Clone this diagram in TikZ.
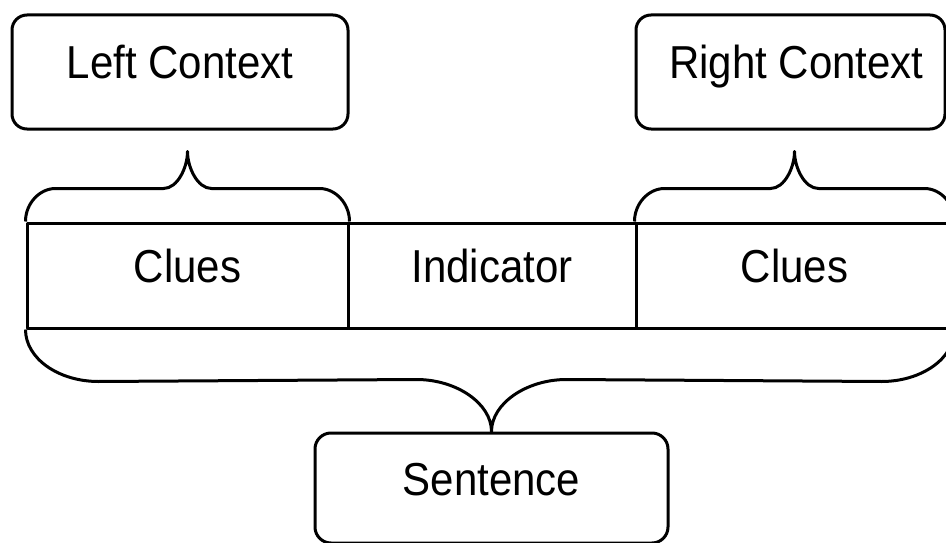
\documentclass[tikz,border=0pt]{standalone}
\usepackage{fontspec}
\setmainfont{Liberation Sans}
\usetikzlibrary{calc}
% slightly tall lettering
\newcommand\tallfont[1]{\scalebox{1}[1.1]{#1}}
\begin{document}
\begin{tikzpicture}[x=1pt,y=1pt,
  ln/.style={line width=3pt, line join=round},
  txt/.style={font=\fontsize{42}{50}\selectfont, text height=34pt, text depth=20pt, inner sep=0pt},
  ctxbox/.style={txt, draw, ln, rounded corners=15pt, minimum height=114pt},
  cell/.style={txt, draw, ln, minimum height=105pt}]
\useasboundingbox (0,0) rectangle (946,-543);
\clip (0,0) rectangle (946,-543);

% context boxes
\node[ctxbox, minimum width=336pt] (left) at (180,-72) {\tallfont{Left Context}};
\node[ctxbox, minimum width=309pt] (right) at (790.5,-72) {\hspace*{12pt}\tallfont{Right Context}};

% sentence row
\node[cell, minimum width=321pt] (cl) at (187.5,-275.5) {\tallfont{Clues}};
\node[cell, minimum width=288pt] (ci) at (492,-275.5) {\tallfont{Indicator}};
\node[cell, minimum width=317pt] (cr) at (794.5,-275.5) {\tallfont{Clues}};

% whole sentence
\node[ctxbox, minimum width=353pt, minimum height=110pt, rounded corners=16pt] (sent) at (491.5,-488) {\tallfont{Sentence}};

% brace tips under the context boxes
\coordinate (tl) at ($(cl.north)+(0,70)$);
\coordinate (tr) at ($(cr.north)+(0,70)$);

% left clues brace
\draw[ln] (cl.north west) .. controls +(0,18) and +(-16,0) .. ($(cl.north west)+(30,33)$)
  -- ($(tl)+(-24,-37)$) .. controls +(14,0) and +(0,-16) .. (tl)
  .. controls +(0,-16) and +(-14,0) .. ($(tl)+(24,-37)$)
  -- ($(cl.north east)+(-30,33)$) .. controls +(16,0) and +(0,18) .. (cl.north east);

% right clues brace
\draw[ln] (cr.north west) .. controls +(0,18) and +(-16,0) .. ($(cr.north west)+(30,33)$)
  -- ($(tr)+(-24,-37)$) .. controls +(14,0) and +(0,-16) .. (tr)
  .. controls +(0,-16) and +(-14,0) .. ($(tr)+(24,-37)$)
  -- ($(cr.north east)+(-30,33)$) .. controls +(16,0) and +(0,18) .. (cr.north east);

% sentence brace
\draw[ln] (cl.south west) .. controls +(0,-29) and +(-40,0) .. ($(cl.south west)+(73,-52)$)
  -- ($(sent.north)+(-75,52)$) .. controls +(40,0) and +(0,28) .. (sent.north)
  .. controls +(0,28) and +(-40,0) .. ($(sent.north)+(75,52)$)
  -- ($(cr.south east)+(-73,-52)$) .. controls +(40,0) and +(0,-29) .. (cr.south east);
\end{tikzpicture}
\end{document}
